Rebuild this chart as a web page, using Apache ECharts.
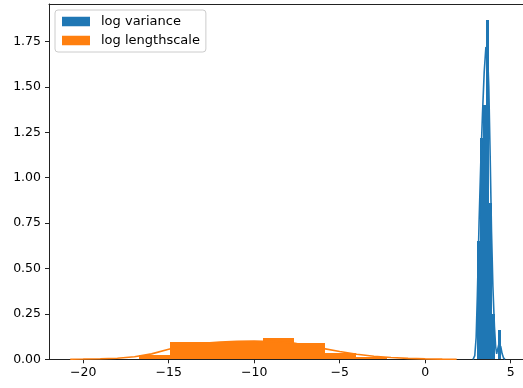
<!DOCTYPE html>
<html><head><meta charset="utf-8">
<script src="https://cdn.jsdelivr.net/npm/echarts@6/dist/echarts.min.js"></script>
<style>html,body{margin:0;padding:0;background:#fff}#c{width:523px;height:388px}</style>
</head><body><div id="c"></div>
<script>
const seriesNames = ['log variance', 'log lengthscale'];
const xTicks = [-20, -15, -10, -5, 0, 5];
const yTicks = [0, 0.25, 0.5, 0.75, 1.0, 1.25, 1.5, 1.75];

// blue histogram (log variance)
const varEdges = [3.006, 3.181, 3.356, 3.531, 3.706, 3.881, 4.056, 4.231, 4.406];
const varHeights = [0.65, 1.22, 1.40, 1.867, 0.86, 0.25, 0.0, 0.16];
// blue KDE
const varKdeX = [2.80, 2.90, 2.98, 3.05, 3.15, 3.25, 3.35, 3.45, 3.55, 3.65, 3.72, 3.80, 3.88, 3.96, 4.05, 4.12, 4.18, 4.24, 4.30, 4.36, 4.42, 4.50, 4.58, 4.66];
const varKdeY = [0.0, 0.02, 0.12, 0.35, 0.75, 1.08, 1.35, 1.58, 1.72, 1.68, 1.50, 1.12, 0.70, 0.40, 0.18, 0.07, 0.03, 0.04, 0.08, 0.09, 0.07, 0.03, 0.008, 0.0];

// orange histogram (log lengthscale)
const lenEdges = [-16.73, -14.91, -13.10, -11.28, -9.47, -7.65, -5.84, -4.02, -2.21];
const lenHeights = [0.024, 0.097, 0.097, 0.097, 0.116, 0.088, 0.033, 0.011];
// orange KDE
const lenKdeX = [-20.76, -20, -19, -18, -17, -16, -15, -14.9, -14, -13, -12, -11, -10, -9, -8, -7.6, -7, -6, -5, -4, -3, -2, -1, 0, 1, 1.84];
const lenKdeY = [0.0005, 0.0015, 0.003, 0.006, 0.014, 0.03, 0.055, 0.062, 0.077, 0.088, 0.095, 0.099, 0.100, 0.098, 0.093, 0.088, 0.076, 0.060, 0.043, 0.028, 0.017, 0.010, 0.005, 0.0025, 0.001, 0.0003];

const BLUE = '#1f77b4', ORANGE = '#ff7f0e';
const X_MIN = -22, X_MAX = 5.72;

function histData(edges, heights) {
  return heights.map((h, i) => [edges[i], edges[i + 1], h]);
}
function kdeData(xs, ys) { return xs.map((x, i) => [x, ys[i]]); }
function histSeries(name, edges, heights, color) {
  return {
    name, type: 'custom', z: 2,
    data: histData(edges, heights),
    encode: { x: [0, 1], y: 2 },
    renderItem: function (params, api) {
      const p0 = api.coord([api.value(0), api.value(2)]);
      const p1 = api.coord([api.value(1), 0]);
      const x0 = Math.round(p0[0]), x1 = Math.round(p1[0]);
      const y0 = Math.round(p0[1]), y1 = Math.round(p1[1]);
      return { type: 'rect', shape: { x: x0, y: y0, width: x1 - x0, height: y1 - y0 },
        style: { fill: color, stroke: null, lineWidth: 0 } };
    },
    itemStyle: { color }
  };
}
function kdeSeries(name, xs, ys, color) {
  return { name, type: 'line', z: 3, data: kdeData(xs, ys), showSymbol: false, symbol: 'none',
    lineStyle: { color, width: 1.6 }, itemStyle: { color }, smooth: false, silent: true };
}

const fmt = v => (v < 0 ? '\u2212' + Math.abs(v) : String(v));
const chart = echarts.init(document.getElementById('c'), null, { renderer: 'canvas' });
chart.setOption({
  animation: false,
  backgroundColor: '#fff',
  textStyle: { fontFamily: 'DejaVu Sans' },
  grid: { left: 49, right: 0, top: 4, bottom: 28.7 },
  legend: {
    left: 55, top: 10, orient: 'vertical', padding: [5, 6, 5, 7], itemGap: 6,
    itemWidth: 28, itemHeight: 9.5,
    backgroundColor: 'rgba(255,255,255,0.8)', borderColor: '#cccccc', borderWidth: 1, borderRadius: 3,
    textStyle: { fontFamily: 'DejaVu Sans', fontSize: 13, color: '#000', padding: [0, 0, 0, 6], lineHeight: 13 },
    data: [{ name: seriesNames[0], icon: 'rect', itemStyle: { color: BLUE } },
           { name: seriesNames[1], icon: 'rect', itemStyle: { color: ORANGE } }]
  },
  xAxis: [{
    type: 'value', min: X_MIN, max: X_MAX,
    splitLine: { show: false },
    axisLine: { show: true, onZero: false, lineStyle: { color: '#222', width: 1 } },
    axisTick: { show: true, customValues: xTicks, length: 4, lineStyle: { color: '#222' } },
    axisLabel: { customValues: xTicks, formatter: fmt, margin: 7, fontSize: 12.5, color: '#000', fontFamily: 'DejaVu Sans' }
  }, {
    type: 'value', position: 'top', min: X_MIN, max: X_MAX,
    splitLine: { show: false },
    axisLine: { show: true, onZero: false, lineStyle: { color: '#222', width: 1 } },
    axisTick: { show: false }, axisLabel: { show: false }
  }],
  yAxis: {
    type: 'value', min: 0, max: 1.9565,
    splitLine: { show: false },
    axisLine: { show: true, onZero: false, lineStyle: { color: '#222', width: 1 } },
    axisTick: { show: true, customValues: yTicks, length: 4, lineStyle: { color: '#222' } },
    axisLabel: { customValues: yTicks, formatter: v => v.toFixed(2), margin: 8, fontSize: 12.5, color: '#000', fontFamily: 'DejaVu Sans' }
  },
  series: [
    histSeries(seriesNames[0], varEdges, varHeights, BLUE),
    kdeSeries(seriesNames[0], varKdeX, varKdeY, BLUE),
    histSeries(seriesNames[1], lenEdges, lenHeights, ORANGE),
    kdeSeries(seriesNames[1], lenKdeX, lenKdeY, ORANGE)
  ]
});
</script></body></html>
